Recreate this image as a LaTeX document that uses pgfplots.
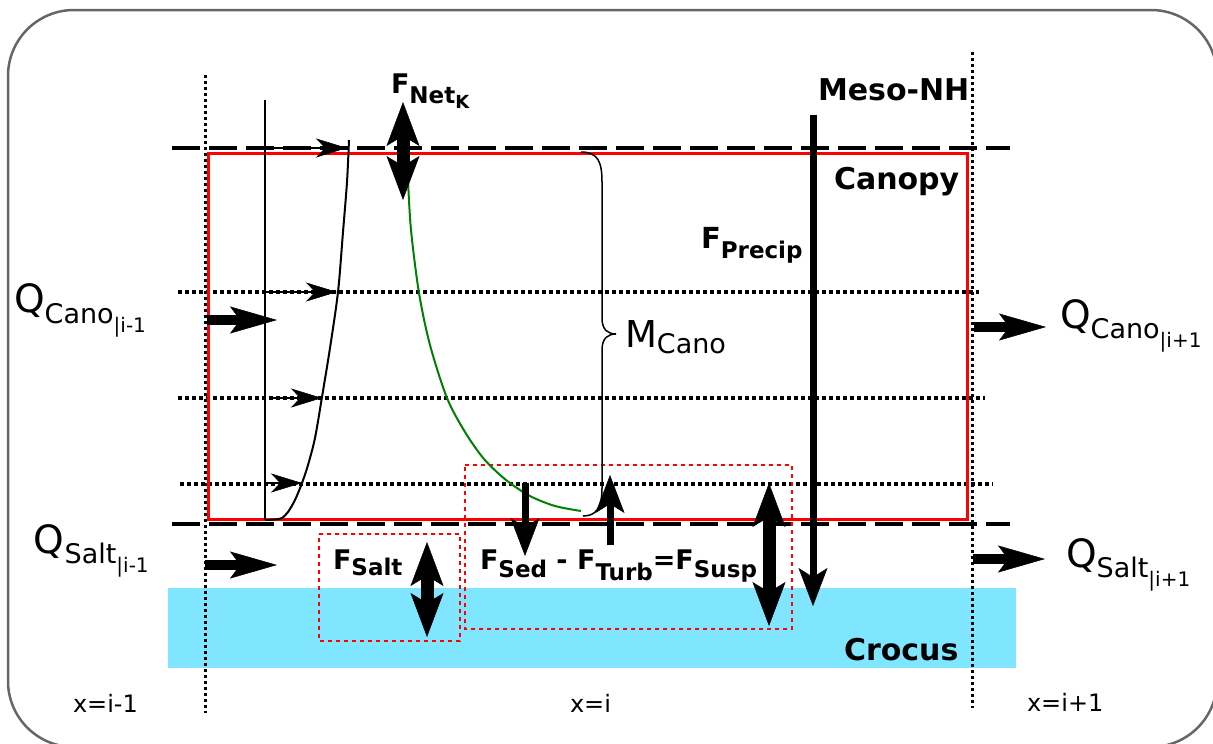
\documentclass[border=0pt]{standalone}
\usepackage{fontspec}
\setmainfont{DejaVu Sans}
\usepackage{pgfplots}
\pgfplotsset{compat=1.18}
\usetikzlibrary{arrows.meta}
\newcommand{\fs}[1]{\fontsize{#1pt}{#1pt}\selectfont}
\definecolor{croc}{HTML}{80E5FF}
\definecolor{bord}{HTML}{666666}
\definecolor{grn}{HTML}{008000}
\tikzset{
  bigarr/.style={line width=10pt,-{Stealth[length=47pt,width=27pt,inset=10pt,line width=0.5pt]}},
  dblarr/.style={line width=13pt,{Stealth[length=44pt,width=33pt,inset=10pt,line width=0.5pt]}-{Stealth[length=44pt,width=33pt,inset=10pt,line width=0.5pt]}},
  medarr/.style={line width=7pt,-{Stealth[length=38pt,width=29pt,inset=9pt,line width=0.5pt]}},
  thinarr/.style={line width=1.2pt,-{Stealth[length=31pt,width=19pt,inset=9pt,line width=0.5pt]}},
  lab/.style={anchor=base west,inner sep=0pt,outer sep=0pt},
}
\begin{document}
\begin{tikzpicture}
\begin{axis}[scale only axis, width=1213pt, height=744pt,
  xmin=0,xmax=1213,ymin=0,ymax=744, y dir=reverse,
  axis lines=none, clip=false]
% Crocus layer
\addplot[draw=none,fill=croc] coordinates {(168,588)(1016,588)(1016,668)(168,668)} -- cycle;
% rounded border
\draw[bord,line width=2.5pt,rounded corners=66pt] (axis cs:8,10) rectangle (axis cs:1217,747);
% vertical dotted
\addplot[line width=3pt,dash pattern=on 3pt off 3pt] coordinates {(205,75)(205,713)};
\addplot[line width=3pt,dash pattern=on 3pt off 3pt] coordinates {(972,52)(972,708)};
% horizontal dotted
\addplot[line width=3.2pt,dash pattern=on 3.5pt off 3.5pt] coordinates {(178,292)(979,292)};
\addplot[line width=3.2pt,dash pattern=on 3.5pt off 3.5pt] coordinates {(178,398)(985,398)};
\addplot[line width=3.2pt,dash pattern=on 3.5pt off 3.5pt] coordinates {(180,484)(993,484)};
% dashed
\addplot[line width=4pt,dash pattern=on 28pt off 9pt] coordinates {(172,148)(1010,148)};
\addplot[line width=4pt,dash pattern=on 28pt off 9pt] coordinates {(172,524)(1010,524)};
% red canopy box
\addplot[red,line width=3pt] coordinates {(208,153)(967,153)(967,519)(208,519)} -- cycle;
% red dotted boxes
\addplot[red,line width=2.5pt,dash pattern=on 4pt off 4pt] coordinates {(319,534)(460,534)(460,641)(319,641)} -- cycle;
\addplot[red,line width=2.5pt,dash pattern=on 4pt off 4pt] coordinates {(465,465)(792,465)(792,629)(465,629)} -- cycle;
% thin vertical line
\addplot[black,line width=1.2pt] coordinates {(265,100)(265,520)};
% velocity profile
\addplot[black,line width=2pt,smooth,tension=0.5] coordinates {(265,520)(275,519.5)(282,518)(288,512)(295,500)(302,483)(308,465)(315,438)(322,397)(330,348)(338,292)(343,232)(347,182)(349,140)};
\draw[thinarr] (axis cs:265,148) -- (axis cs:347,148);
\draw[thinarr] (axis cs:265,292) -- (axis cs:337,292);
\draw[thinarr] (axis cs:270,398) -- (axis cs:322,398);
\draw[thinarr] (axis cs:265,483) -- (axis cs:302,483);
% green curve
\addplot[grn,line width=2pt,smooth] coordinates {(408,180)(411,230)(419,293)(430,345)(447,398)(465,432)(484,459)(506,480)(530,496)(555,506)(581,511)};
% brace
\draw[black,line width=1.5pt] (axis cs:581,152) .. controls (axis cs:598,152) and (axis cs:602,162) .. (axis cs:602,182) -- (axis cs:602,318) .. controls (axis cs:602,330) and (axis cs:608,334) .. (axis cs:616,334) .. controls (axis cs:608,334) and (axis cs:602,338) .. (axis cs:602,350) -- (axis cs:602,488) .. controls (axis cs:602,508) and (axis cs:596,516) .. (axis cs:583,516);
% thick arrows
\draw[bigarr] (axis cs:207,320) -- (axis cs:277,320);
\draw[bigarr] (axis cs:974,327) -- (axis cs:1046,327);
\draw[bigarr] (axis cs:205,565) -- (axis cs:277,565);
\draw[bigarr] (axis cs:973,559) -- (axis cs:1045,559);
\draw[dblarr] (axis cs:403,102) -- (axis cs:403,200);
\draw[dblarr] (axis cs:427,542) -- (axis cs:427,637);
\draw[dblarr] (axis cs:769,483) -- (axis cs:769,626);
\draw[medarr] (axis cs:525,483) -- (axis cs:525,556);
\draw[medarr] (axis cs:610,545) -- (axis cs:610,475);
\draw[medarr] (axis cs:813,115) -- (axis cs:813,606);
% labels
\node[lab] at (axis cs:391,93) {\bfseries\fs{27}F\raisebox{-10pt}{\fs{23}Net\raisebox{-5pt}{\fs{18}K}}};
\node[lab] at (axis cs:818,100) {\bfseries\fs{30}Meso-NH};
\node[lab] at (axis cs:834,189) {\bfseries\fs{30}Canopy};
\node[lab] at (axis cs:701,248) {\bfseries\fs{29}F\raisebox{-10pt}{\fs{23}Precip}};
\node[lab] at (axis cs:14,312) {\fs{39}Q\raisebox{-11pt}{\fs{27}Cano\raisebox{-9pt}{\fs{20}|i-1}}};
\node[lab] at (axis cs:1060,328) {\fs{39}Q\raisebox{-10pt}{\fs{27}Cano\raisebox{-9pt}{\fs{20}|i+1}}};
\node[lab] at (axis cs:625,347) {\fs{37}M\raisebox{-6pt}{\fs{27}Cano}};
\node[lab] at (axis cs:34,553) {\fs{39}Q\raisebox{-10pt}{\fs{27}Salt\raisebox{-9pt}{\fs{20}|i-1}}};
\node[lab] at (axis cs:1066,567) {\fs{39}Q\raisebox{-10pt}{\fs{27}Salt\raisebox{-9pt}{\fs{20}|i+1}}};
\node[lab] at (axis cs:333,569) {\bfseries\fs{27}F\raisebox{-6pt}{\fs{23}Salt}};
\node[lab] at (axis cs:480,569) {\bfseries\fs{27}F\raisebox{-8pt}{\fs{23}Sed} - F\raisebox{-11pt}{\fs{23}Turb}=F\raisebox{-8pt}{\fs{23}Susp}};
\node[lab] at (axis cs:844,660) {\bfseries\fs{30}Crocus};
\node[lab] at (axis cs:73,712) {\fs{24}x=i-1};
\node[lab] at (axis cs:570,712) {\fs{24}x=i};
\node[lab] at (axis cs:1027,711) {\fs{24}x=i+1};
\coordinate (BL) at (axis cs:0,744);
\coordinate (TR) at (axis cs:1213,0);
\end{axis}
\pgfresetboundingbox
\path[use as bounding box] (BL) rectangle (TR);
\end{tikzpicture}
\end{document}
